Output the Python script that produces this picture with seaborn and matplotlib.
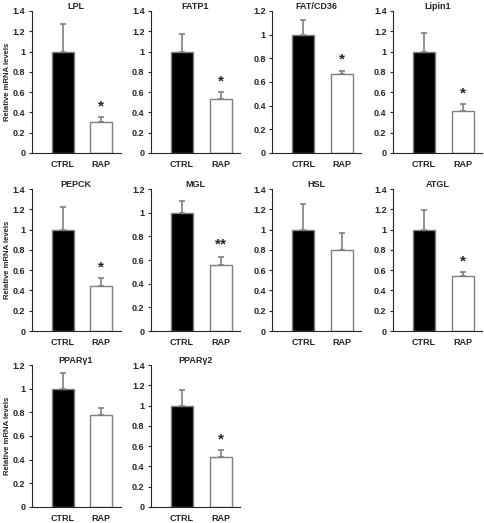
import numpy as np
import pandas as pd
import matplotlib.pyplot as plt
import seaborn as sns

sns.set_style("ticks")
plt.rcParams['font.family'] = ['Liberation Sans', 'DejaVu Sans']
plt.rcParams['font.weight'] = 'bold'
plt.rcParams['axes.labelweight'] = 'bold'
plt.rcParams['axes.titleweight'] = 'bold'

genes = ['LPL', 'FATP1', 'FAT/CD36', 'Lipin1',
         'PEPCK', 'MGL', 'HSL', 'ATGL',
         'PPARγ1', 'PPARγ2']
groups = ['CTRL', 'RAP']
ctrl_mean = [1, 1, 1, 1, 1, 1, 1, 1, 1, 1]
ctrl_sem = [0.27, 0.17, 0.12, 0.18, 0.22, 0.10, 0.25, 0.19, 0.13, 0.15]
rap_mean = [0.31, 0.53, 0.67, 0.41, 0.44, 0.56, 0.80, 0.54, 0.78, 0.49]
rap_sem = [0.04, 0.07, 0.02, 0.07, 0.08, 0.07, 0.17, 0.04, 0.06, 0.07]
signif = ['*', '*', '*', '*', '*', '**', '', '*', '', '*']
y_max = [1.4, 1.4, 1.2, 1.4, 1.4, 1.2, 1.4, 1.4, 1.2, 1.4]

fig = plt.figure(figsize=(4.85, 5.23), dpi=100)

col_left = [0.065, 0.311, 0.561, 0.810]
row_bottom = [0.7075, 0.367, 0.0306]
w, h = 0.1835, 0.2715

for i, gene in enumerate(genes):
    r, c = divmod(i, 4)
    ax = fig.add_axes([col_left[c], row_bottom[r], w, h])
    df = pd.DataFrame({'group': groups, 'value': [ctrl_mean[i], rap_mean[i]]})
    sns.barplot(data=df, x='group', y='value', hue='group',
                palette=['black', 'white'], edgecolor='#7f7f7f', linewidth=1.0,
                width=0.57, legend=False, ax=ax)
    ax.errorbar([0, 1], df['value'], yerr=[[0, 0], [ctrl_sem[i], rap_sem[i]]],
                fmt='none', ecolor='#7f7f7f', elinewidth=1.2, capsize=2.2, capthick=1.2)
    if signif[i]:
        ax.text(1, rap_mean[i] + rap_sem[i] + 0.04, signif[i], ha='center', va='bottom',
                fontsize=11, fontweight='bold')
    ax.set_xlim(-0.81, 1.5)
    ax.set_ylim(0, y_max[i])
    ticks = np.arange(0, y_max[i] + 0.01, 0.2)
    ax.set_yticks(ticks)
    ax.set_yticklabels(['{:g}'.format(round(t, 1)) for t in ticks])
    ax.tick_params(axis='y', labelsize=6.5, length=2.5, width=0.8, pad=2)
    ax.tick_params(axis='x', labelsize=6.5, length=0, pad=5)
    for lab in ax.get_xticklabels() + ax.get_yticklabels():
        lab.set_fontweight('bold')
    ax.set_xlabel('')
    if c == 0:
        ax.set_ylabel('Relative mRNA levels', fontsize=5.6)
        ax.yaxis.set_label_coords(-0.23, 0.5)
    else:
        ax.set_ylabel('')
    ax.set_title(gene, fontsize=6.5, pad=1.5)
    sns.despine(ax=ax)
    for s in ['left', 'bottom']:
        ax.spines[s].set_linewidth(0.8)

fig.savefig('out.png', dpi=100)
